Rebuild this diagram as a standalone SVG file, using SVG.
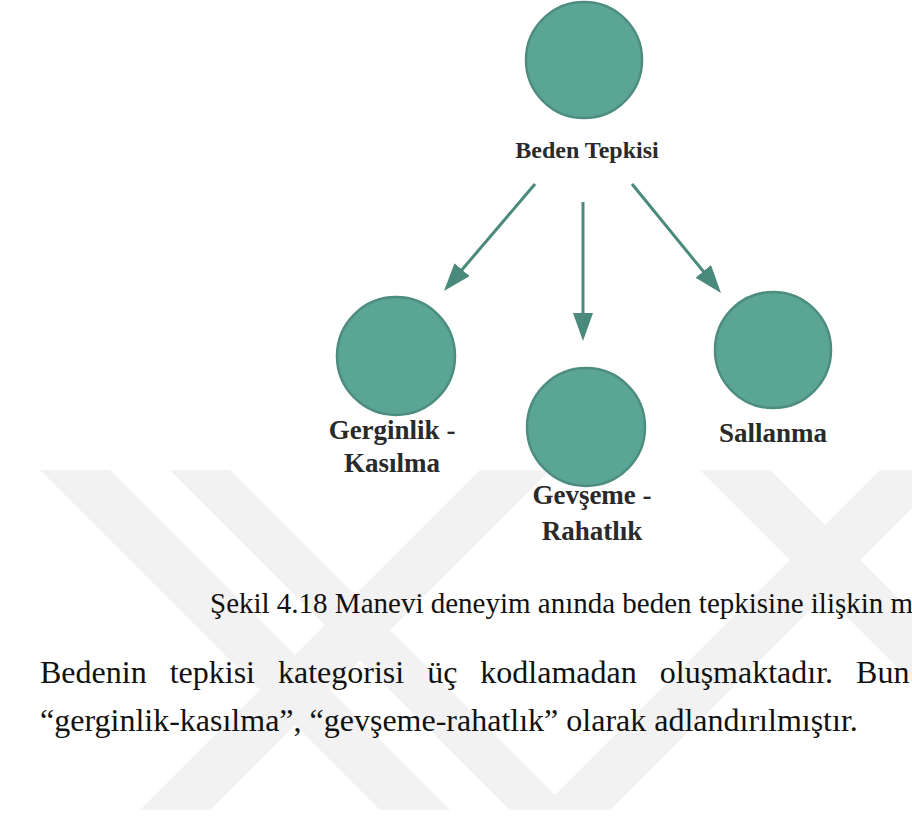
<svg xmlns="http://www.w3.org/2000/svg" width="912" height="828" viewBox="0 0 912 828">
  <defs>
    <style>
      .node circle { fill: #5ba594; stroke: #4d8d7f; stroke-width: 2.5; }
      .lbl { font-family: "Liberation Serif", "Times New Roman", serif; font-weight: bold; fill: #2a2a2a; text-anchor: middle; }
      .body { font-family: "Liberation Serif", "Times New Roman", serif; fill: #111111; }
      .edge { stroke: #4a8a7c; stroke-width: 3; fill: none; marker-end: url(#arrow); }
      .wm { fill: #f2f2f2; }
    </style>
    <marker id="arrow" markerUnits="userSpaceOnUse" markerWidth="28" markerHeight="20" viewBox="0 0 28 20" refX="4" refY="10" orient="auto">
      <path d="M0,0 L28,10 L0,20 z" fill="#4a8a7c"/>
    </marker>
    <clipPath id="wmclip"><rect x="0" y="470" width="912" height="340"/></clipPath>
  </defs>
  <rect width="912" height="828" fill="#ffffff"/>
  <g id="watermark" clip-path="url(#wmclip)">
    <polygon class="wm" points="40,470 110,470 450,810 380,810"/>
    <polygon class="wm" points="170,470 230,470 570,810 510,810"/>
    <polygon class="wm" points="480,470 550,470 210,810 140,810"/>
    <polygon class="wm" points="700,470 770,470 1110,810 1040,810"/>
    <polygon class="wm" points="880,470 950,470 610,810 540,810"/>
  </g>
  <g id="connectors">
    <line class="edge" x1="535" y1="184" x2="459.5" y2="272.7"/>
    <line class="edge" x1="583" y1="202" x2="583" y2="317"/>
    <line class="edge" x1="632" y1="184" x2="705.8" y2="274.4"/>
  </g>
  <g id="node-beden" class="node">
    <circle cx="584" cy="60" r="58"/>
    <text class="lbl" x="587" y="158" font-size="24">Beden Tepkisi</text>
  </g>
  <g id="node-gerginlik" class="node">
    <circle cx="396" cy="356" r="59"/>
    <text class="lbl" x="392" y="439" font-size="27">Gerginlik -</text>
    <text class="lbl" x="392" y="472" font-size="27">Kasılma</text>
  </g>
  <g id="node-gevseme" class="node">
    <circle cx="586" cy="427" r="59"/>
    <text class="lbl" x="592" y="504" font-size="27">Gevşeme -</text>
    <text class="lbl" x="592" y="540" font-size="27">Rahatlık</text>
  </g>
  <g id="node-sallanma" class="node">
    <circle cx="773" cy="350" r="58"/>
    <text class="lbl" x="773" y="442" font-size="27">Sallanma</text>
  </g>
  <g id="caption">
    <text class="body" x="210" y="613" font-size="29">Şekil 4.18 Manevi deneyim anında beden tepkisine ilişkin m</text>
  </g>
  <g id="paragraph">
    <text class="body" x="40" y="683" font-size="32" word-spacing="15">Bedenin tepkisi kategorisi üç kodlamadan oluşmaktadır. Bun</text>
    <text class="body" x="40" y="731" font-size="32">“gerginlik-kasılma”, “gevşeme-rahatlık” olarak adlandırılmıştır.</text>
  </g>
</svg>
